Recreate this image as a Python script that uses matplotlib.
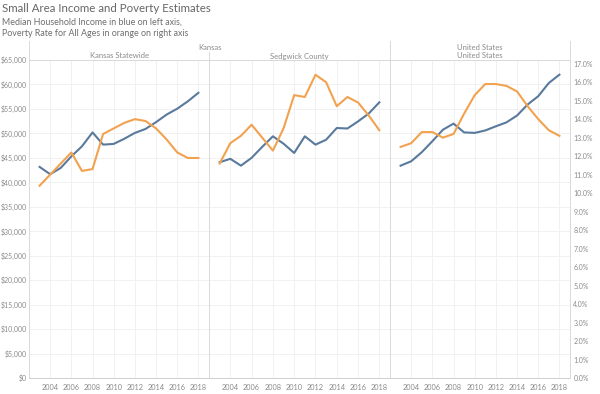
import matplotlib
matplotlib.use("Agg")
import matplotlib.pyplot as plt
from matplotlib.ticker import FuncFormatter

plt.rcParams['font.family'] = ['Lato', 'DejaVu Sans']

# data
years = list(range(2003, 2019))
panels = ["Kansas Statewide", "Sedgwick County", "United States"]

income_ks = [43150, 41650, 42950, 45300, 47350, 50200, 47700, 47850,
             48900, 50100, 50900, 52300, 53850, 55050, 56550, 58300]
income_sedg = [44100, 44800, 43400, 45000, 47250, 49400, 47900, 46000,
               49400, 47700, 48700, 51100, 51000, 52450, 54050, 56350]
income_us = [43400, 44300, 46150, 48400, 50750, 52000, 50200, 50100,
             50600, 51450, 52250, 53650, 55900, 57600, 60300, 62000]

poverty_ks = [10.4, 11.0, 11.6, 12.2, 11.2, 11.3, 13.2, 13.5,
              13.8, 14.0, 13.9, 13.5, 12.9, 12.2, 11.9, 11.9]
poverty_sedg = [11.6, 12.7, 13.1, 13.7, 13.0, 12.3, 13.5, 15.3,
                15.2, 16.4, 16.0, 14.7, 15.2, 14.9, 14.2, 13.4]
poverty_us = [12.5, 12.7, 13.3, 13.3, 13.0, 13.2, 14.3, 15.3,
              15.9, 15.9, 15.8, 15.5, 14.7, 14.0, 13.4, 13.1]

income = [income_ks, income_sedg, income_us]
poverty = [poverty_ks, poverty_sedg, poverty_us]

blue = "#5a7a9c"
orange = "#f2a24f"
txt = "#8a8a8a"
grid = "#efefef"
sep = "#d9d9d9"

W, H = 600, 394
fig = plt.figure(figsize=(6, 3.94), dpi=100)


def fx(px):
    return px / W


def fy(py):
    return 1 - py / H


left_edges = [29, 209, 390]
widths = [180, 181, 180]
top, bottom = 60, 378

for i in range(3):
    ax = fig.add_axes([fx(left_edges[i]), fy(bottom), fx(widths[i]), (bottom - top) / H])
    ax.plot(years, income[i], color=blue, lw=1.5, zorder=3)
    ax.set_xlim(2002, 2019)
    ax.set_ylim(0, 65000)
    ax.set_yticks(range(0, 65001, 5000))
    ax.set_xticks(range(2004, 2019, 2))
    ax.set_xticklabels([str(y) for y in range(2004, 2019, 2)])
    ax.grid(True, color=grid, lw=0.6)
    ax.set_axisbelow(True)
    ax.tick_params(axis="x", length=0, labelsize=5.3, colors=txt, pad=4)
    ax.tick_params(axis="y", length=0, labelsize=5, colors=txt, pad=1.5)
    for s in ["top", "right"]:
        ax.spines[s].set_visible(False)
    ax.spines["left"].set_color(sep)
    ax.spines["left"].set_linewidth(0.7)
    ax.spines["bottom"].set_color("#cfcfcf")
    ax.spines["bottom"].set_linewidth(0.7)
    if i == 0:
        ax.yaxis.set_major_formatter(FuncFormatter(lambda v, p: "${:,.0f}".format(v)))
    else:
        ax.set_yticklabels([])

    ax2 = ax.twinx()
    ax2.plot(years, poverty[i], color=orange, lw=1.5, zorder=3)
    ax2.set_ylim(0, 17.2)
    ax2.set_yticks([k for k in range(0, 18)])
    ax2.tick_params(length=0, labelsize=5, colors=txt, pad=2.5)
    for s in ["top", "left", "bottom"]:
        ax2.spines[s].set_visible(False)
    if i == 2:
        ax2.yaxis.set_major_formatter(FuncFormatter(lambda v, p: "{:.1f}%".format(v)))
        ax2.spines["right"].set_color(sep)
        ax2.spines["right"].set_linewidth(0.7)
    else:
        ax2.set_yticklabels([])
        ax2.spines["right"].set_visible(False)

    # panel header
    fig.text(fx(left_edges[i] + widths[i] / 2), fy(56), panels[i], ha="center",
             va="center", fontsize=5.5, color=txt)

# top header row
fig.text(fx(210), fy(47), "Kansas", ha="center", va="center", fontsize=5.5, color=txt)
fig.text(fx(480), fy(47), "United States", ha="center", va="center", fontsize=5.5, color=txt)

# header frame lines
fig.add_artist(plt.Line2D([fx(29), fx(570)], [fy(60), fy(60)], color=sep, lw=0.7))
fig.add_artist(plt.Line2D([fx(29), fx(29)], [fy(41), fy(60)], color=sep, lw=0.7))
fig.add_artist(plt.Line2D([fx(209), fx(209)], [fy(52), fy(60)], color=sep, lw=0.7))
fig.add_artist(plt.Line2D([fx(390), fx(390)], [fy(41), fy(60)], color=sep, lw=0.7))
fig.add_artist(plt.Line2D([fx(570), fx(570)], [fy(41), fy(60)], color=sep, lw=0.7))

# titles
fig.text(fx(2), fy(9), "Small Area Income and Poverty Estimates", ha="left",
         va="center", fontsize=8.3, color="#666666")
fig.text(fx(2), fy(22), "Median Household Income in blue on left axis,", ha="left",
         va="center", fontsize=6.4, color="#6e6e6e")
fig.text(fx(2), fy(33), "Poverty Rate for All Ages in orange on right axis", ha="left",
         va="center", fontsize=6.4, color="#6e6e6e")

fig.savefig("out.png", dpi=100)
